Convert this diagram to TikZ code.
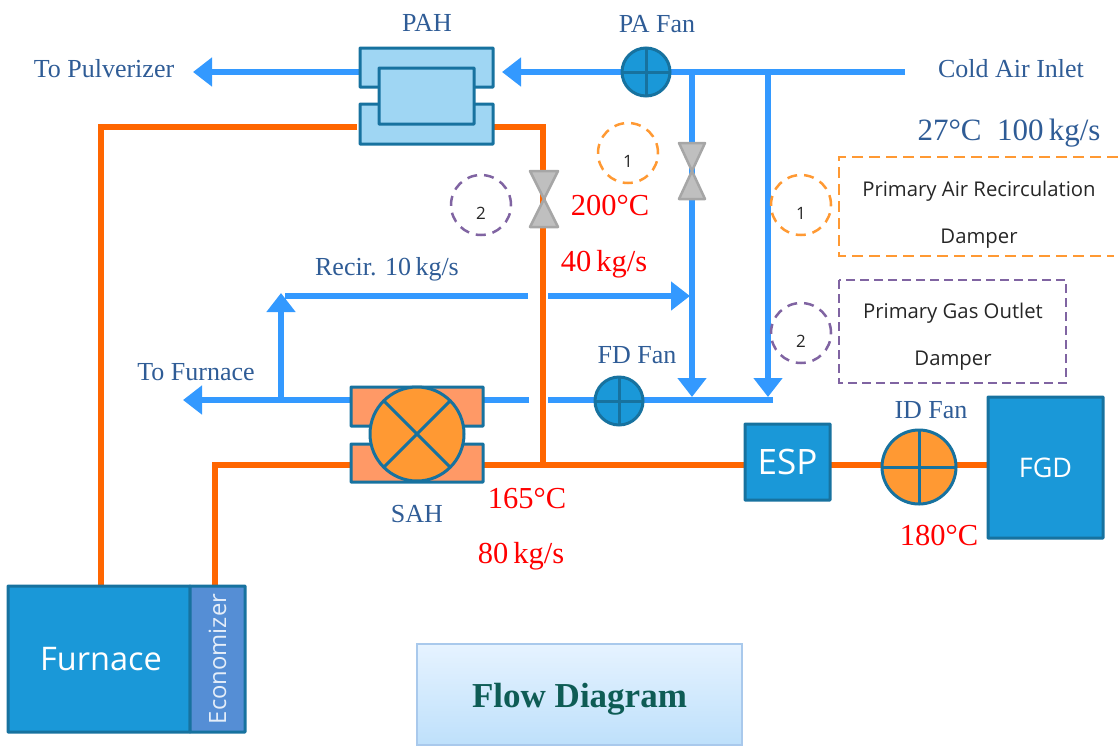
\documentclass[tikz,border=0pt]{standalone}
\usepackage{fontspec}
\setmainfont{Liberation Serif}
\newfontfamily\labelfont{Open Sans}
\usepackage{tikz}
\usetikzlibrary{arrows.meta,backgrounds,shadings}
\definecolor{airblue}{HTML}{3399FF}
\definecolor{gasorange}{HTML}{FF6600}
\definecolor{edgeblue}{HTML}{17729F}
\definecolor{unitblue}{HTML}{1A98D8}
\definecolor{ecoblue}{HTML}{558ED5}
\definecolor{palehot}{HTML}{FF9966}
\definecolor{palecold}{HTML}{9FD6F3}
\definecolor{fanorange}{HTML}{FF9933}
\definecolor{damperviolet}{HTML}{8064A2}
\definecolor{nameblue}{HTML}{2F5C96}
\definecolor{titlegreen}{HTML}{0E5C55}
\definecolor{titletop}{HTML}{E6F3FF}
\definecolor{titlebot}{HTML}{BEE0FB}
\definecolor{titleedge}{HTML}{A9C9EC}
\tikzset{
%Define standard arrow tip
>={Triangle[length=19pt,width=28pt]},
%Define style for the two kinds of duct
air/.style={line width=6pt, draw=airblue, color=airblue},
gas/.style={line width=6pt, draw=gasorange},
%Define style for the units
unit/.style={draw=edgeblue, line width=3pt, inner sep=0pt, outer sep=0pt, rounded corners=0.5pt},
hot/.style={unit, fill=palehot},
cold/.style={unit, fill=palecold},
block/.style={unit, fill=unitblue, text=white, font=\labelfont\fontsize{35}{37}\selectfont},
fan/.style={unit, circle, fill=unitblue, minimum size=48pt},
valve/.style={draw=black!35, fill=black!25, line width=2.5pt, line join=round},
%Define style for the text
unitname/.style={text=nameblue, font=\fontsize{26}{28}\selectfont},
reading/.style={text=red, font=\fontsize{30.5}{32}\selectfont},
note/.style={text=black!85, font=\labelfont\fontsize{20.3}{22}\selectfont},
mark1/.style={circle, draw=fanorange, line width=2.5pt, minimum size=60pt, inner sep=0pt, dash pattern=on 10pt off 7pt, font=\labelfont\fontsize{17}{18}\selectfont, text=black!85},
mark2/.style={mark1, draw=damperviolet},
}
\begin{document}
\begin{tikzpicture}[x=1pt, y=-1pt]
    \useasboundingbox (0,0) rectangle (1118,745);
    %Heat exchangers
    \node[cold, minimum width=133pt, minimum height=39pt] (pahtop) at (426.5,67.5) {};
    \node[cold, minimum width=133pt, minimum height=40pt] (pahbot) at (426.5,124) {};
    \node[cold, minimum width=95pt, minimum height=56pt] (pahin) at (426.5,96) {};
    \node[hot, minimum width=132pt, minimum height=39pt] (sahtop) at (417,406.5) {};
    \node[hot, minimum width=132pt, minimum height=38pt] (sahbot) at (417,463) {};
    \node[unit, circle, fill=fanorange, minimum size=94pt] (sahin) at (417,434) {};
    \draw[edgeblue, line width=3pt] (sahin.45) -- (sahin.225);
    \draw[edgeblue, line width=3pt] (sahin.135) -- (sahin.315);
    %Fans
    \node[fan] (pafan) at (646,72) {};
    \node[fan] (fdfan) at (619,401) {};
    \node[fan, fill=fanorange, minimum size=74pt] (idfan) at (919,467) {};
    \foreach \f in {pafan,fdfan,idfan}{
      \draw[edgeblue, line width=3pt] (\f.north) -- (\f.south);
      \draw[edgeblue, line width=3pt] (\f.west) -- (\f.east);
    }
    %Blocks
    \node[block, minimum width=85pt, minimum height=76pt] (esp) at (787.5,462) {ESP};
    \node[block, minimum width=115pt, minimum height=141pt, font=\labelfont\fontsize{27}{29}\selectfont] (fgd) at (1045.5,467.5) {FGD};
    \node[block, minimum width=182pt, minimum height=146pt, font=\labelfont\fontsize{32.5}{34}\selectfont] (furnace) at (99,659) {\hspace*{4pt}Furnace};
    \node[block, fill=ecoblue, text=white!85!ecoblue, font=\labelfont\fontsize{23.8}{25}\selectfont, rotate=90, minimum width=146pt, minimum height=55pt] (eco) at (217.5,659) {Economizer};
    %Free ends of the ducts
    \coordinate (inlet) at (905,72);
    \coordinate (pulv) at (193,72);
    \coordinate (pahin tip) at (502,72);
    \coordinate (drop1) at (692,72);
    \coordinate (drop2) at (768,72);
    \coordinate (tip1) at (692,397);
    \coordinate (tip2) at (768,397);
    \coordinate (fdend) at (773,400);
    \coordinate (fdgap) at (548,400);
    \coordinate (sahgap) at (529,400);
    \coordinate (tofurn) at (183,400);
    \coordinate (riser) at (281,400);
    \coordinate (risertip) at (281,293);
    \coordinate (recir) at (285,296);
    \coordinate (recirgap1) at (528,296);
    \coordinate (recirgap2) at (548,296);
    \coordinate (recirtip) at (690,296);
    \coordinate (gas1) at (543,127);
    \coordinate (gas2) at (543,465);
    \coordinate (gas3) at (101,127);
    \coordinate (gas4) at (215,465);
    \begin{scope}[on background layer]
      %Air side
      \draw[air] (inlet) -- (pafan);
      \draw[air, ->] (pafan) -- (pahin tip);
      \draw[air, ->] (pafan -| pahtop.west) -- (pulv);
      \draw[air, ->] (drop1) -- (tip1);
      \draw[air, ->] (drop2) -- (tip2);
      \draw[air] (fdend) -- (fdend -| fdfan);
      \draw[air] (fdfan |- fdgap) -- (fdgap);
      \draw[air] (sahgap) -- (sahtop.east |- sahgap);
      \draw[air, ->] (sahtop.west |- tofurn) -- (tofurn);
      \draw[air, ->] (riser) -- (risertip);
      \draw[air] (recir) -- (recirgap1);
      \draw[air, ->] (recirgap2) -- (recirtip);
      %Gas side
      \draw[gas] (pahbot.east |- gas1) -- (gas1) -- (gas2);
      \draw[gas, shorten <=3pt] (pahbot.west |- gas1) -- (gas3) -- (gas3 |- furnace.north);
      \draw[gas] (sahbot.west |- gas4) -- (gas4) -- (gas4 |- furnace.north);
      \draw[gas] (sahbot.east |- gas2) -- (esp.west |- gas2);
      \draw[gas] (esp.east |- gas2) -- (idfan.west |- gas2);
      \draw[gas] (idfan.east |- gas2) -- (fgd.west |- gas2);
    \end{scope}
    %Dampers
    \draw[valve, shift={(692,171)}] (-13,-28) -- (13,-28) -- (-13,28) -- (13,28) -- cycle;
    \draw[valve, shift={(544,199)}] (-14,-28) -- (14,-28) -- (-14,28) -- (14,28) -- cycle;
    %Dashed notes
    \node[mark1] (mark1a) at (628,153) {\raisebox{-14pt}[0pt][0pt]{1}};
    \node[mark2] (mark2a) at (481,205) {\raisebox{-14pt}[0pt][0pt]{2}};
    \node[mark1] (mark1b) at (801,205) {\raisebox{-14pt}[0pt][0pt]{1}};
    \node[mark2] (mark2b) at (801,333) {\raisebox{-14pt}[0pt][0pt]{2}};
    \draw[draw=fanorange, line width=2.5pt, dash pattern=on 11pt off 6pt] (1118,157) -- (839,157) -- (839,256) -- (1114,256);
    \draw[draw=damperviolet, line width=2.5pt, dash pattern=on 9pt off 5pt] (839,280) rectangle (1066,383);
    \node[note] (air1) at (979,191) {Primary Air Recirculation};
    \node[note] (air2) at (979,239) {Damper};
    \node[note] (damp1) at (953,313) {Primary Gas Outlet};
    \node[note] (damp2) at (953,361) {Damper};
    %Names
    \node[unitname] (pah) at (427,23) {PAH};
    \node[unitname] (pa) at (657,24) {PA Fan};
    \node[unitname] (pulvtext) at (104,69) {To Pulverizer};
    \node[unitname] (inlettext) at (1011,69) {Cold Air Inlet};
    \node[unitname] (recirtext) at (387,269) {Recir. 10\,kg/s};
    \node[unitname] (furntext) at (196,372) {To Furnace};
    \node[unitname] (fd) at (637,355) {FD Fan};
    \node[unitname] (sah) at (417,514) {SAH};
    \node[unitname] (id) at (931,410) {ID Fan};
    \node[unitname, font=\fontsize{31}{33}\selectfont] (inletdata) at (1009,133) {27°C\ \ 100\,kg/s};
    %Readings
    \node[reading] (t200) at (610,206) {200°C};
    \node[reading] (f40) at (604,264) {40\,kg/s};
    \node[reading] (t165) at (527,498) {165°C};
    \node[reading] (f80) at (521,556) {80\,kg/s};
    \node[reading] (t180) at (939,535) {180°C};
    %Title box
    \node[draw=titleedge, line width=1.5pt, top color=titletop, bottom color=titlebot, minimum width=325pt, minimum height=101pt, inner sep=0pt, text=titlegreen, font=\bfseries\fontsize{35}{37}\selectfont] (flow) at (579.5,694.5) {\raisebox{-13pt}[0pt][0pt]{Flow Diagram}};
\end{tikzpicture}
\end{document}
